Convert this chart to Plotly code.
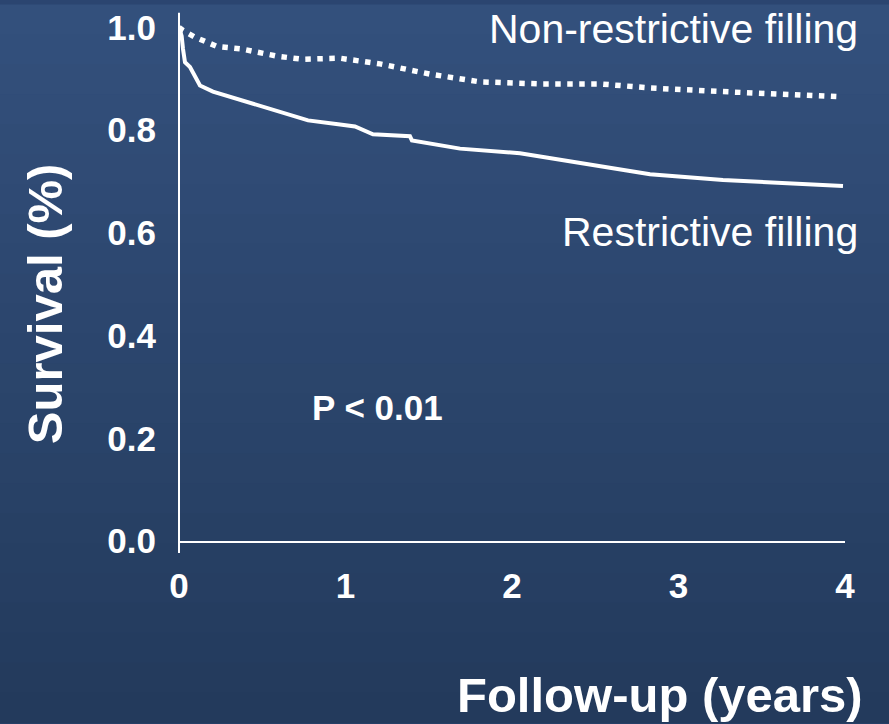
import plotly.graph_objects as go

# Follow-up time (years) and survival fraction
restrictive_years = [0.0, 0.016, 0.024, 0.036, 0.066, 0.096, 0.126, 0.204, 0.306, 0.486, 0.667,
                     0.775, 0.967, 1.057, 1.165, 1.387, 1.399, 1.688, 2.048, 2.468, 2.829,
                     3.267, 3.988]
restrictive_surv = [1.0, 0.983, 0.958, 0.932, 0.923, 0.905, 0.887, 0.875, 0.865, 0.846, 0.829,
                    0.819, 0.811, 0.807, 0.792, 0.788, 0.780, 0.764, 0.755, 0.732, 0.714,
                    0.703, 0.691]

nonrestrictive_years = [0.0, 0.024, 0.096, 0.228, 0.378, 0.589, 0.739, 0.967, 1.207, 1.508,
                        1.808, 2.168, 2.529, 2.829, 3.267, 3.970]
nonrestrictive_surv = [1.0, 0.994, 0.981, 0.963, 0.958, 0.944, 0.938, 0.940, 0.929, 0.909,
                       0.894, 0.890, 0.890, 0.882, 0.875, 0.865]

x_ticks = [0, 1, 2, 3, 4]
y_ticks = [0.0, 0.2, 0.4, 0.6, 0.8, 1.0]
y_tick_text = ["0.0", "0.2", "0.4", "0.6", "0.8", "1.0"]

FONT = "Liberation Sans, Arial, sans-serif"
TOP_RGB = (0x33, 0x50, 0x7c)
BOT_RGB = (0x23, 0x3a, 0x5c)

W, H = 889, 724
ML, MR, MT, MB = 179, 44, 7.5, 183
PW, PH = W - ML - MR, H - MT - MB

# background gradient bands (paper coordinates)
bg_shapes = []
n_bands = 24
for i in range(n_bands):
    t = i / (n_bands - 1)
    c = tuple(round(TOP_RGB[k] + (BOT_RGB[k] - TOP_RGB[k]) * t) for k in range(3))
    py0 = H * i / n_bands
    py1 = H * (i + 1) / n_bands + 1
    bg_shapes.append(dict(
        type="rect", xref="paper", yref="paper", layer="below",
        x0=-ML / PW - 0.01, x1=(W - ML) / PW + 0.01,
        y0=(H - MB - py1) / PH, y1=(H - MB - py0) / PH,
        fillcolor="rgb(%d,%d,%d)" % c, line=dict(width=0)))

fig = go.Figure()
fig.add_trace(go.Scatter(
    x=nonrestrictive_years, y=nonrestrictive_surv, mode="lines",
    line=dict(color="white", width=5.5, dash="5.5px,6.5px"),
    showlegend=False, hoverinfo="skip", cliponaxis=False))
fig.add_trace(go.Scatter(
    x=restrictive_years, y=restrictive_surv, mode="lines",
    line=dict(color="white", width=4),
    showlegend=False, hoverinfo="skip", cliponaxis=False))

fig.update_layout(
    width=W, height=H,
    margin=dict(l=ML, r=MR, t=MT, b=MB),
    paper_bgcolor="#2b4570", plot_bgcolor="rgba(0,0,0,0)",
    font=dict(family=FONT, color="white"),
    xaxis=dict(range=[0, 4], tickvals=x_ticks, showgrid=False, zeroline=False,
               showline=True, linecolor="white", linewidth=2,
               ticks="outside", ticklen=13, tickcolor="rgba(0,0,0,0)",
               tickfont=dict(size=35, color="white", family=FONT, weight="bold")),
    yaxis=dict(range=[0, 1.03], tickvals=y_ticks, ticktext=y_tick_text, showgrid=False,
               zeroline=False, showline=False,
               ticks="outside", ticklen=15, tickcolor="rgba(0,0,0,0)",
               tickfont=dict(size=35, color="white", family=FONT, weight="bold")),
    shapes=bg_shapes + [dict(type="line", xref="paper", yref="paper", x0=0, x1=0,
                             y0=-0.0225, y1=0.9985, line=dict(color="white", width=2))],
    annotations=[
        dict(text="Follow-up (years)", xref="paper", yref="paper", x=0.722, y=-0.292,
             xanchor="center", yanchor="middle", showarrow=False,
             font=dict(size=49, color="white", family=FONT, weight="bold")),
        dict(text="Survival (%)", xref="paper", yref="paper", x=-0.201, y=0.448,
             xanchor="center", yanchor="middle", showarrow=False, textangle=-90,
             font=dict(size=49, color="white", family=FONT, weight="bold")),
        dict(text="Non-restrictive filling", xref="paper", yref="paper", x=1.0225, y=0.967,
             xanchor="right", yanchor="middle", showarrow=False,
             font=dict(size=41, color="white", family=FONT)),
        dict(text="Restrictive filling", xref="paper", yref="paper", x=1.0225, y=0.585,
             xanchor="right", yanchor="middle", showarrow=False,
             font=dict(size=41, color="white", family=FONT)),
        dict(text="P < 0.01", xref="paper", yref="paper", x=0.197, y=0.252,
             xanchor="left", yanchor="middle", showarrow=False,
             font=dict(size=35, color="white", family=FONT, weight="bold")),
    ],
)

fig.write_html("out.html",
               config={"displayModeBar": False},
               post_script="document.body.style.margin='0';"
                           "document.body.style.background='#2b4570';")
